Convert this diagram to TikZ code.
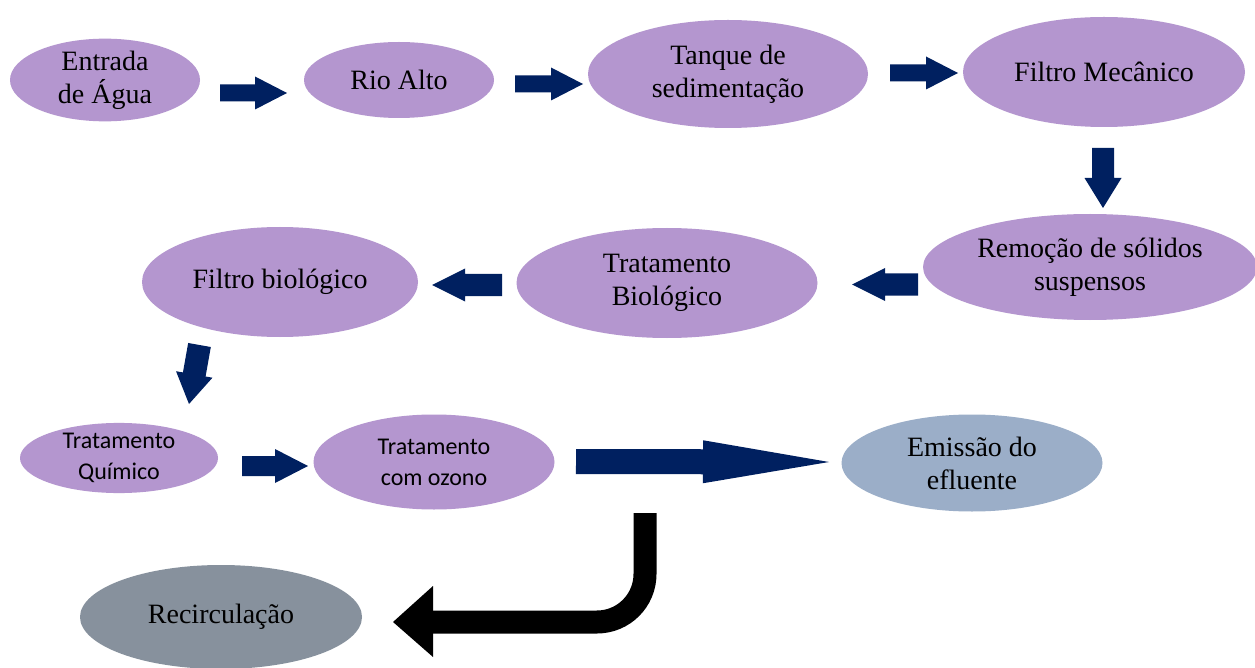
\documentclass[tikz,border=0pt]{standalone}
\usepackage{fontspec}
\setmainfont{Liberation Serif}
\newfontfamily\calibrifont{Carlito}
\usetikzlibrary{shapes.geometric,calc}

\definecolor{lilac}{RGB}{180,150,207}
\definecolor{outflow}{RGB}{155,174,200}
\definecolor{recirc}{RGB}{135,145,157}
\definecolor{navy}{RGB}{0,32,96}

% block arrow between two named coordinates:
% #1 colour, #2 tail, #3 tip, #4 half shaft width, #5 half head width, #6 head length
\newcommand{\blockarrow}[6]{%
  \coordinate (ba-h) at ($(#3)!#6!(#2)$);
  \fill[#1] ($(#2)!#4!90:(#3)$) -- ($(ba-h)!#4!90:(#3)$) -- ($(ba-h)!#5!90:(#3)$)
    -- (#3) -- ($(ba-h)!#5!-90:(#3)$) -- ($(ba-h)!#4!-90:(#3)$)
    -- ($(#2)!#4!-90:(#3)$) -- cycle;
}

\begin{document}
\begin{tikzpicture}[x=1pt,y=-1pt,
  stage/.style={ellipse, fill=lilac, inner sep=0pt, align=center,
    font=\fontsize{28}{33}\selectfont},
  sansstage/.style={stage, font=\calibrifont\fontsize{24}{31}\selectfont},
]
\useasboundingbox[fill=white] (0,0) rectangle (1255,668);

% process stages
\node[stage, minimum width=190pt, minimum height=76pt] (entrada) at (105,80) {Entrada\\de Água};
\node[stage, minimum width=190pt, minimum height=76pt] (rio) at (399,80) {Rio Alto};
\node[stage, minimum width=280pt, minimum height=108pt] (tanque) at (728,74) {Tanque de\\sedimentação};
\node[stage, minimum width=282pt, minimum height=110pt] (mecanico) at (1104,72) {Filtro Mecânico};
\node[stage, minimum width=334pt, minimum height=106pt] (remocao) at (1090,267) {Remoção de sólidos\\suspensos};
\node[stage, minimum width=301pt, minimum height=110pt] (tbio) at (667,283) {Tratamento\\Biológico};
\node[stage, minimum width=276pt, minimum height=110pt] (fbio) at (280,282) {Filtro biológico};
\node[sansstage, minimum width=198pt, minimum height=70pt] (quimico) at (119,458) {Tratamento\\Químico};
\node[sansstage, minimum width=241pt, minimum height=95pt] (ozono) at (434,462) {Tratamento\\com ozono};
\node[stage, fill=outflow, minimum width=261pt, minimum height=97pt] (emissao) at (972,463) {Emissão do\\efluente};
\node[stage, fill=recirc, minimum width=282pt, minimum height=104pt] (recirculacao) at (221,617) {Recirculação};

% arrow ends
\coordinate (a1t) at (220,93);   \coordinate (a1h) at (287,93);
\coordinate (a2t) at (515,84);   \coordinate (a2h) at (583,84);
\coordinate (a3t) at (890,73);   \coordinate (a3h) at (958,73);
\coordinate (a4t) at (1103,148); \coordinate (a4h) at (1103,208);
\coordinate (a5t) at (918,284.5);\coordinate (a5h) at (852,284.5);
\coordinate (a6t) at (502,285);  \coordinate (a6h) at (432,285);
\coordinate (a7t) at (199.5,345);\coordinate (a7h) at (189,404);
\coordinate (a8t) at (242,466);  \coordinate (a8h) at (308,466);
\coordinate (a9t) at (576,461.5);\coordinate (a9h) at (829,462);

\blockarrow{navy}{a1t}{a1h}{8.5pt}{16.5pt}{32pt}
\blockarrow{navy}{a2t}{a2h}{8.5pt}{16.5pt}{32pt}
\blockarrow{navy}{a3t}{a3h}{8.5pt}{16.5pt}{32pt}
\blockarrow{navy}{a4t}{a4h}{11pt}{18.5pt}{30pt}
\blockarrow{navy}{a5t}{a5h}{11pt}{16.5pt}{33pt}
\blockarrow{navy}{a6t}{a6h}{11pt}{16.5pt}{33pt}
\blockarrow{navy}{a7t}{a7h}{11.5pt}{18.5pt}{30pt}
\blockarrow{navy}{a8t}{a8h}{10pt}{17pt}{33pt}
\blockarrow{navy}{a9t}{a9h}{12.5pt}{21.5pt}{126pt}

% bent return arrow towards recirculation
\coordinate (rc-a) at (645,513);
\coordinate (rc-b) at (433,622);
\coordinate (rc-tip) at (393,622);
\draw[black, line width=23pt, rounded corners=48pt] (rc-a) |- (rc-b);
\fill[black] ($(rc-b)+(0,-36)$) -- (rc-tip) -- ($(rc-b)+(0,35)$) -- cycle;
\end{tikzpicture}
\end{document}
